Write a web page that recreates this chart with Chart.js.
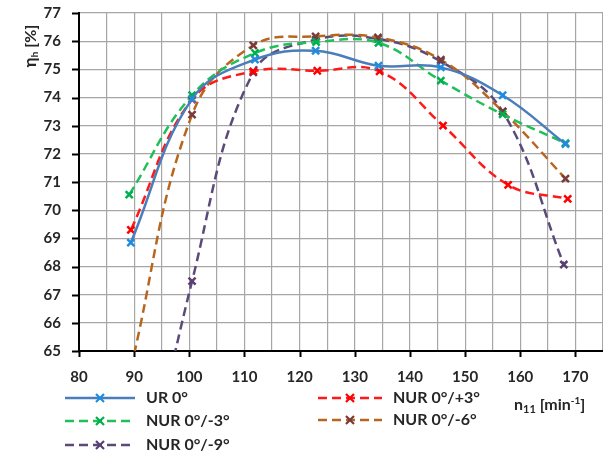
<!DOCTYPE html>
<html>
<head>
<meta charset="utf-8">
<script src="https://cdn.jsdelivr.net/npm/chart.js@4.4.1/dist/chart.umd.min.js"></script>
<style>
  html, body { margin: 0; padding: 0; background: #fff; }
</style>
</head>
<body>
<canvas id="myChart" width="603" height="456"></canvas>
<script>
// n11 [min-1] and eta_h [%]
let labels = ['UR 0°', 'NUR 0°/+3°', 'NUR 0°/-3°', 'NUR 0°/-6°', 'NUR 0°/-9°'];

let xUR   = [89.4, 100.5, 111.9, 122.9, 134.3, 145.6, 156.8, 168.2];
let yUR   = [68.85, 73.95, 75.35, 75.66, 75.13, 75.07, 74.08, 72.35];

let xP3   = [89.4, 100.5, 111.6, 123.2, 134.5, 146.0, 157.8, 168.6];
let yP3   = [69.3, 73.93, 74.93, 74.95, 74.93, 73.0, 70.9, 70.4];

let xM3   = [89.1, 100.5, 111.9, 123.0, 134.3, 145.6, 156.8, 168.2];
let yM3   = [70.55, 74.08, 75.58, 75.97, 75.94, 74.6, 73.4, 72.38];

let xM6   = [89.4, 100.5, 111.6, 122.9, 134.2, 145.6, 156.8, 168.2];
let yM6   = [64.4, 73.39, 75.85, 76.17, 76.13, 75.34, 73.51, 71.12];

let xM9   = [89.4, 100.5, 111.6, 122.9, 134.2, 145.6, 156.8, 167.9];
let yM9   = [57.5, 67.48, 74.89, 76.05, 76.08, 75.28, 73.5, 68.07];

let xTickLabels = [80, 90, 100, 110, 120, 130, 140, 150, 160, 170];

function pts(xs, ys) {
    return xs.map((x, i) => ({ x: x, y: ys[i] }));
}

let textColor = '#262626';
let font = 'Lato';

// draws a list of text runs (for sub/superscripts), centred or left-aligned
function drawRuns(ctx, runs, x, y, align) {
    let total = 0;
    runs.forEach(r => { ctx.font = r.font; total += ctx.measureText(r.t).width; });
    let cx = align === 'center' ? x - total / 2 : x;
    ctx.textAlign = 'left';
    ctx.textBaseline = 'middle';
    runs.forEach(r => {
        ctx.font = r.font;
        ctx.fillText(r.t, cx, y + (r.dy || 0));
        cx += ctx.measureText(r.t).width;
    });
}

var extrasPlugin = {
    id: 'extras',
    afterDraw: function (chart) {
        let ctx = chart.ctx;
        let xs = chart.scales.x, ys = chart.scales.y;
        let area = chart.chartArea;
        ctx.save();

        // tick marks on the axes
        ctx.strokeStyle = '#000';
        ctx.lineWidth = 2;
        ctx.beginPath();
        for (let v = 65; v <= 77; v++) {
            let py = Math.round(ys.getPixelForValue(v)) + 0.5;
            ctx.moveTo(area.left - 7, py);
            ctx.lineTo(area.left, py);
        }
        xTickLabels.forEach(v => {
            let px = Math.round(xs.getPixelForValue(v)) + 0.5;
            ctx.moveTo(px, area.bottom);
            ctx.lineTo(px, area.bottom + 6);
        });
        ctx.stroke();

        ctx.fillStyle = textColor;

        // y title, rotated
        ctx.save();
        ctx.translate(31, 46);
        ctx.rotate(-Math.PI / 2);
        drawRuns(ctx, [
            { t: 'η', font: 'bold 17px ' + font },
            { t: 'h', font: 'bold 10px ' + font, dy: 4 },
            { t: ' [%]', font: 'bold 16px ' + font }
        ], 0, 0, 'center');
        ctx.restore();

        // x title
        drawRuns(ctx, [
            { t: 'n', font: 'bold 16px ' + font },
            { t: '11', font: 'bold 11px ' + font, dy: 4 },
            { t: ' [min', font: 'bold 16px ' + font },
            { t: '-1', font: 'bold 10px ' + font, dy: -4 },
            { t: ']', font: 'bold 16px ' + font }
        ], 514, 405, 'left');

        // legend
        let slots = [
            { x0: 65, x1: 135, y: 398 },
            { x0: 318, x1: 382, y: 398 },
            { x0: 65, x1: 135, y: 421 },
            { x0: 318, x1: 382, y: 420 },
            { x0: 65, x1: 135, y: 445 }
        ];
        chart.data.datasets.forEach((ds, i) => {
            let s = slots[i];
            ctx.strokeStyle = ds.borderColor;
            ctx.lineWidth = ds.borderWidth;
            ctx.setLineDash(ds.borderDash || []);
            ctx.beginPath();
            ctx.moveTo(s.x0, s.y);
            ctx.lineTo(s.x1, s.y);
            ctx.stroke();
            ctx.setLineDash([]);
            let xm = (s.x0 + s.x1) / 2, r = 4;
            ctx.strokeStyle = ds.pointBorderColor;
            ctx.lineWidth = 2.2;
            ctx.beginPath();
            ctx.moveTo(xm - r, s.y - r); ctx.lineTo(xm + r, s.y + r);
            ctx.moveTo(xm + r, s.y - r); ctx.lineTo(xm - r, s.y + r);
            ctx.stroke();
            ctx.font = 'bold 16px ' + font;
            ctx.textAlign = 'left';
            ctx.textBaseline = 'middle';
            ctx.fillText(ds.label, s.x1 + 11, s.y);
        });
        ctx.restore();
    }
};

function series(label, data, line, marker, dashed) {
    return {
        label: label,
        data: data,
        showLine: true,
        tension: 0.4,
        borderColor: line,
        borderWidth: 2.5,
        borderDash: dashed ? [9, 5] : [],
        pointStyle: 'crossRot',
        pointRadius: 5,
        pointBorderWidth: 2.5,
        pointBorderColor: marker,
        pointBackgroundColor: marker
    };
}

let data = {
    datasets: [
        series(labels[0], pts(xUR, yUR), '#4a7ebb', '#1f8ce0', false),
        series(labels[1], pts(xP3, yP3), '#ff1a1a', '#ff0000', true),
        series(labels[2], pts(xM3, yM3), '#1fbf5a', '#00b050', true),
        series(labels[3], pts(xM6, yM6), '#b8661e', '#7b3a3a', true),
        series(labels[4], pts(xM9, yM9), '#5a4a78', '#5b3f73', true)
    ]
};

let ctx = document.getElementById('myChart').getContext('2d');
let myChart = new Chart(ctx, {
    type: 'scatter',
    data: data,
    options: {
        responsive: false,
        animation: false,
        layout: { autoPadding: false, padding: { top: 13, right: 0, bottom: 0, left: 0 } },
        plugins: {
            legend: { display: false },
            tooltip: { enabled: false }
        },
        scales: {
            x: {
                type: 'linear',
                min: 80,
                max: 175,
                afterFit: function (scale) {
                    scale.height = 105;
                    scale.paddingLeft = 0;
                    scale.paddingRight = 0;
                },
                border: { color: '#000', width: 2 },
                grid: { color: '#a6a6a6', lineWidth: 1.2, drawTicks: false },
                ticks: {
                    stepSize: 5,
                    autoSkip: false,
                    maxRotation: 0,
                    padding: 17,
                    color: textColor,
                    font: { family: font, size: 15, weight: 'bold' },
                    callback: function (v) { return xTickLabels.includes(v) ? String(v) : ''; }
                }
            },
            y: {
                min: 65,
                max: 77,
                afterFit: function (scale) {
                    scale.width = 79;
                    scale.paddingTop = 0;
                    scale.paddingBottom = 0;
                },
                border: { color: '#000', width: 2 },
                grid: { color: '#a6a6a6', lineWidth: 1.2, drawTicks: false },
                ticks: {
                    stepSize: 1,
                    padding: 18,
                    color: textColor,
                    font: { family: font, size: 15, weight: 'bold' }
                }
            }
        }
    },
    plugins: [extrasPlugin]
});
</script>
</body>
</html>
